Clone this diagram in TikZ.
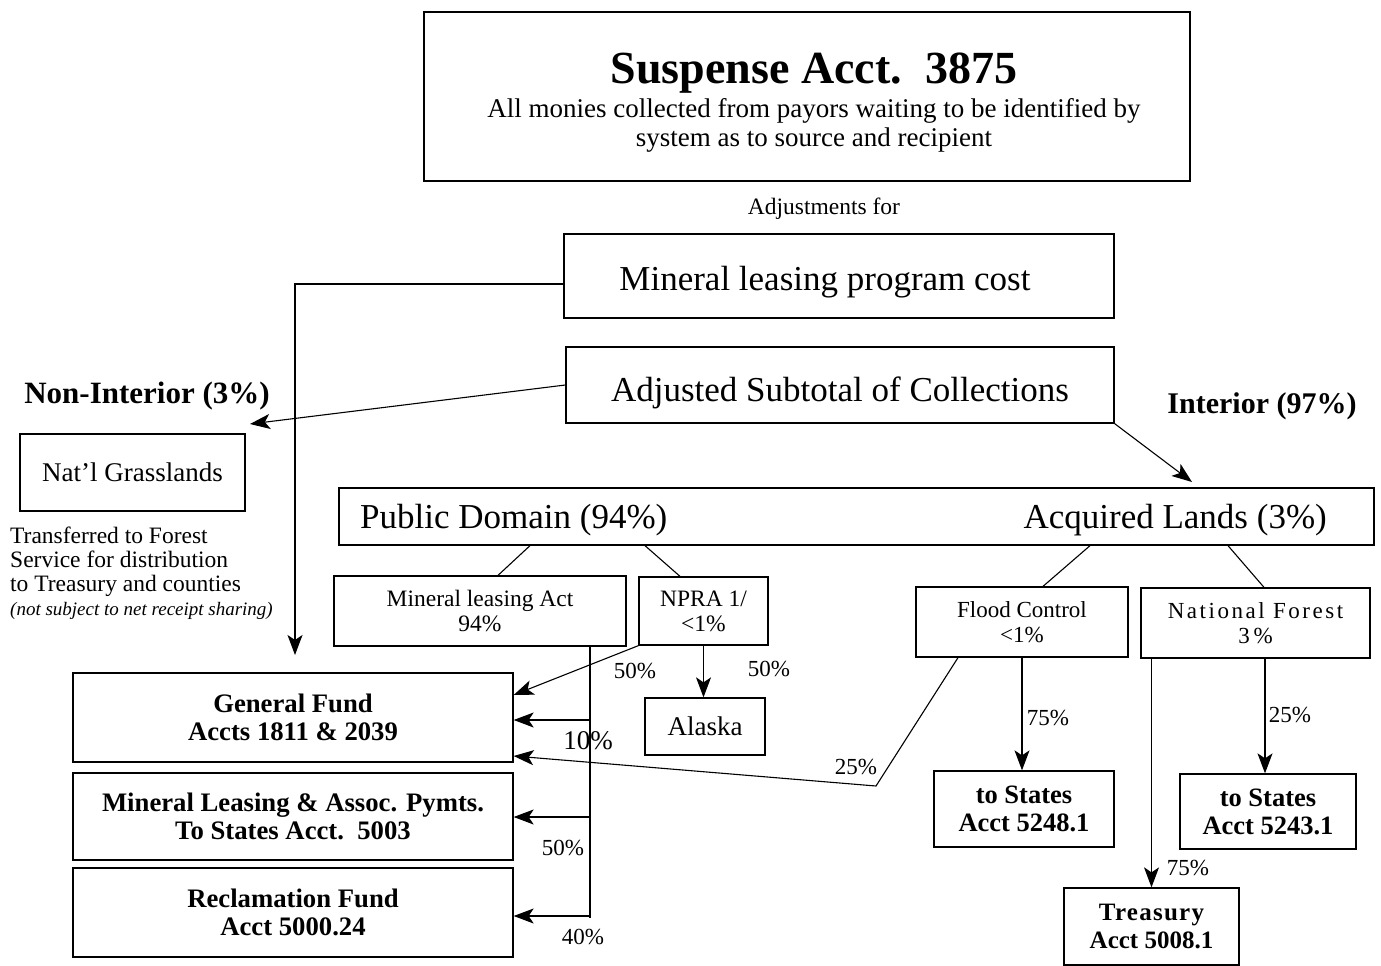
\documentclass[tikz,border=0pt]{standalone}
\usepackage{fontspec}
\setmainfont{Liberation Serif}
\usetikzlibrary{arrows.meta,calc}
\begin{document}
\begin{tikzpicture}[x=1pt,y=-1pt,
  box/.style={draw,line width=1.3pt,inner sep=0pt,align=center},
  conn/.style={line width=1.1pt},
  arr/.style={conn,-{Stealth[length=20pt,width=15pt,inset=5pt]}},
  pct/.style={font=\fontsize{23}{24}\selectfont,inner sep=0pt},
  lbl/.style={inner sep=0pt,align=center}]
\useasboundingbox (0,0) rectangle (1381,966);
\fill[white] (0,0) rectangle (1381,966);

% top boxes
\node[box,minimum width=766,minimum height=169] (susp) at (807,96.5) {};
\node[lbl,font=\fontsize{46}{50}\bfseries] (suspt) at (814,73) {Suspense Acct.\ \ 3875};
\node[lbl,font=\fontsize{27}{29}\selectfont] (susps) at (814,125) {All monies collected from payors waiting to be identified by\\system as to source and recipient};
\node[lbl,font=\fontsize{23.5}{26}\selectfont] (adjfor) at (824,209) {Adjustments for};
\node[box,minimum width=550,minimum height=84,text height=28pt,text depth=0pt,font=\fontsize{35}{38}\selectfont] (mlpc) at (839,276) {\hspace*{-28pt}Mineral leasing program cost};
\node[box,minimum width=548,minimum height=76,text height=32pt,text depth=0pt,font=\fontsize{35}{38}\selectfont] (adj) at (840,385) {Adjusted Subtotal of Collections};

\node[lbl,font=\fontsize{31}{34}\bfseries] (nonint) at (147,396) {Non-Interior (3\%)};
\node[lbl,font=\fontsize{30}{34}\bfseries] (int) at (1262,406) {Interior (97\%)};

\node[box,minimum width=225,minimum height=77,font=\fontsize{27}{30}\selectfont] (grass) at (132.5,472.5) {Nat’l Grasslands};
\node[lbl,anchor=north west,align=left,font=\fontsize{23.5}{24}\selectfont] (transf) at (10,527)
  {Transferred to Forest\\Service for distribution\\to Treasury and counties\\{\fontsize{19}{24}\itshape (not subject to net receipt sharing)}};

% domain box
\node[box,minimum width=1035,minimum height=57] (pd) at (856.5,516.5) {};
\node[lbl,anchor=west,font=\fontsize{35}{38}\selectfont] (pdt) at (360,520) {Public Domain (94\%)};
\node[lbl,anchor=east,font=\fontsize{35}{38}\selectfont] (alt) at (1327,520) {Acquired Lands (3\%)};

% second level
\node[box,minimum width=292,minimum height=70,font=\fontsize{23.5}{25}\selectfont] (mla) at (480,611) {Mineral leasing Act\\94\%};
\node[box,minimum width=129,minimum height=68,font=\fontsize{23.5}{25}\selectfont] (npra) at (703.5,611) {NPRA 1/\\<1\%};
\node[box,minimum width=212,minimum height=70,font=\fontsize{23}{25}\selectfont] (flood) at (1022,622) {Flood Control\\<1\%};
\node[box,minimum width=229,minimum height=70,font=\fontsize{23}{25}\selectfont] (natf) at (1255.5,623) {\addfontfeature{LetterSpace=11}National Forest\\3\,\%};

% bottom left
\node[box,minimum width=440,minimum height=89,font=\fontsize{26.7}{28}\bfseries] (gf) at (293,717.5) {General Fund\\Accts 1811 \& 2039};
\node[box,minimum width=440,minimum height=87,font=\fontsize{26.7}{28}\bfseries] (mlap) at (293,816.5) {Mineral Leasing \& Assoc. Pymts.\\To States Acct.\ \ 5003};
\node[box,minimum width=440,minimum height=89,font=\fontsize{26.7}{28}\bfseries] (recl) at (293,912.5) {Reclamation Fund\\Acct 5000.24};
\node[box,minimum width=120,minimum height=57,font=\fontsize{27}{28}\selectfont] (alaska) at (705,726.5) {Alaska};

% bottom right
\node[box,minimum width=180,minimum height=76,font=\fontsize{26.5}{28}\bfseries] (st1) at (1024,809) {to States\\Acct 5248.1};
\node[box,minimum width=176,minimum height=75,font=\fontsize{26.5}{28}\bfseries] (st2) at (1268,811.5) {to States\\Acct 5243.1};
\node[box,minimum width=175,minimum height=77,font=\fontsize{25}{28}\bfseries] (treas) at (1151.5,926.5) {\addfontfeature{LetterSpace=5}Treasury\\Acct 5008.1};

% connectors
\coordinate (c1) at (295,284);
\coordinate (c1e) at (295,655);
\draw[arr] (mlpc.west |- c1) -- (c1) -- (c1e);
\coordinate (ni) at (250,424);
\draw[arr] (adj.west) -- (ni);
\coordinate (ie) at (1192,482);
\draw[arr] (adj.south east) -- (ie);

\draw[conn] (pd.south -| 530,0) -- (mla.north -| 498,0);
\draw[conn] (pd.south -| 645,0) -- (npra.north -| 680,0);
\draw[conn] (pd.south -| 1090,0) -- (flood.north -| 1043,0);
\draw[conn] (pd.south -| 1228,0) -- (natf.north -| 1264,0);

\draw[arr] (npra.south west) -- (gf.east |- 0,695);
\draw[arr] (npra.south) -- (alaska.north -| npra.south);
\node[pct] (p50a) at (635,671) {50\%};
\node[pct] (p50b) at (769,669) {50\%};

\coordinate (t1) at (590,720);
\coordinate (t2) at (590,817);
\coordinate (t3) at (590,916);
\draw[conn] (mla.south -| t1) -- ($(t3)+(0,2)$);
\draw[arr] (t1) -- (gf.east |- t1);
\draw[arr] (t2) -- (mlap.east |- t2);
\draw[arr] (t3) -- (recl.east |- t3);
\node[pct,font=\fontsize{27}{28}\selectfont] (p10) at (588,741) {10\%};
\node[pct] (p50c) at (563,848) {50\%};
\node[pct] (p40) at (583,937) {40\%};

\coordinate (fb) at (876,786);
\draw[arr] (flood.south -| 958,0) -- (fb) -- (gf.east |- 0,756);
\node[pct] (p25a) at (856,767) {25\%};
\draw[arr] (flood.south) -- (st1.north -| flood.south);
\node[pct] (p75a) at (1048,718) {75\%};
\draw[arr] (natf.south -| 1265,0) -- (st2.north -| 1265,0);
\node[pct] (p25b) at (1290,715) {25\%};
\draw[arr] (natf.south -| treas.north) -- (treas.north);
\node[pct] (p75b) at (1188,868) {75\%};
\end{tikzpicture}
\end{document}
